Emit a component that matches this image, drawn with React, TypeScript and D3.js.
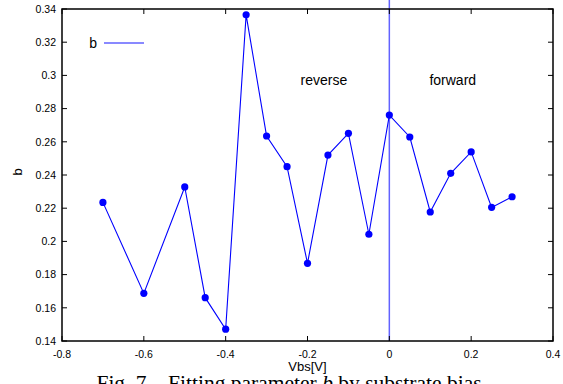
import { useRef, useEffect } from 'react';
import * as d3 from 'd3';

// Vbs [V] and fitted b values
const VBS = [-0.7, -0.6, -0.5, -0.45, -0.4, -0.35, -0.3, -0.25, -0.2, -0.15, -0.1, -0.05, 0, 0.05, 0.1, 0.15, 0.2, 0.25, 0.3];
const B_VALUES = [0.2235, 0.1687, 0.2328, 0.1661, 0.1471, 0.3365, 0.2635, 0.245, 0.1868, 0.252, 0.2651, 0.2043, 0.2761, 0.2629, 0.2177, 0.241, 0.2539, 0.2205, 0.2269];
const X_TICKS = [-0.8, -0.6, -0.4, -0.2, 0, 0.2, 0.4];
const Y_TICKS = [0.14, 0.16, 0.18, 0.2, 0.22, 0.24, 0.26, 0.28, 0.3, 0.32, 0.34];
const REGION_LABELS = [
  { text: 'reverse', x: -0.16 },
  { text: 'forward', x: 0.155 },
];

const SANS = '"Liberation Sans", Arial, Helvetica, sans-serif';

export default function App() {
  const svgRef = useRef<SVGSVGElement>(null);

  useEffect(() => {
    const svg = d3.select(svgRef.current);
    svg.selectAll('*').remove();

    const W = 563, H = 384;
    const margin = { top: 9, right: 10, bottom: 43, left: 62 };
    const width = W - margin.left - margin.right;
    const height = H - margin.top - margin.bottom;

    const x = d3.scaleLinear().domain([-0.8, 0.4]).range([0, width]);
    const y = d3.scaleLinear().domain([0.14, 0.34]).range([height, 0]);

    const g = svg.append('g').attr('transform', `translate(${margin.left},${margin.top})`);

    // zero-bias divider (runs a little above the frame)
    g.append('line')
      .attr('x1', x(0)).attr('x2', x(0))
      .attr('y1', -margin.top).attr('y2', height)
      .attr('stroke', '#6262ff').attr('stroke-width', 1.5);

    // ticks, mirrored and pointing inward
    const tickLen = 5;
    const tk = g.append('g').attr('stroke', '#000').attr('stroke-width', 1);
    X_TICKS.forEach(t => {
      tk.append('line').attr('x1', x(t)).attr('x2', x(t)).attr('y1', height).attr('y2', height - tickLen);
      tk.append('line').attr('x1', x(t)).attr('x2', x(t)).attr('y1', 0).attr('y2', tickLen);
    });
    Y_TICKS.forEach(t => {
      tk.append('line').attr('x1', 0).attr('x2', tickLen).attr('y1', y(t)).attr('y2', y(t));
      tk.append('line').attr('x1', width).attr('x2', width - tickLen).attr('y1', y(t)).attr('y2', y(t));
    });

    // frame
    g.append('rect')
      .attr('width', width).attr('height', height)
      .attr('fill', 'none').attr('stroke', '#000').attr('stroke-width', 1.5);

    // tick labels
    g.append('g').selectAll('text')
      .data(X_TICKS).enter().append('text')
      .attr('x', d => x(d)).attr('y', height + 17)
      .attr('text-anchor', 'middle')
      .style('font-family', SANS).style('font-size', '10.5px')
      .text(d => String(d));

    g.append('g').selectAll('text')
      .data(Y_TICKS).enter().append('text')
      .attr('x', -6).attr('y', d => y(d) + 3.8)
      .attr('text-anchor', 'end')
      .style('font-family', SANS).style('font-size', '10.5px')
      .text(d => String(d));

    // axis titles
    g.append('text')
      .attr('x', width / 2).attr('y', height + 30)
      .attr('text-anchor', 'middle')
      .style('font-family', SANS).style('font-size', '13px')
      .text('Vbs[V]');

    svg.append('text')
      .attr('transform', `translate(22,172) rotate(-90)`)
      .attr('text-anchor', 'middle')
      .style('font-family', SANS).style('font-size', '13px')
      .text('b');

    // region labels
    g.selectAll('text.region')
      .data(REGION_LABELS).enter().append('text')
      .attr('class', 'region')
      .attr('x', d => x(d.x)).attr('y', y(0.3) + 10)
      .attr('text-anchor', 'middle')
      .style('font-family', SANS).style('font-size', '14px')
      .text(d => d.text);

    // legend
    const lg = g.append('g');
    lg.append('text')
      .attr('x', 35).attr('y', 34 + 4.5)
      .attr('text-anchor', 'end')
      .style('font-family', SANS).style('font-size', '14px')
      .text('b');
    lg.append('line')
      .attr('x1', 42).attr('x2', 82).attr('y1', 34).attr('y2', 34)
      .attr('stroke', '#6262ff').attr('stroke-width', 1.5);

    // data series
    const pts = VBS.map((v, i) => [v, B_VALUES[i]] as [number, number]);
    const line = d3.line<[number, number]>().x(d => x(d[0])).y(d => y(d[1]));
    g.append('path')
      .datum(pts)
      .attr('d', line)
      .attr('fill', 'none').attr('stroke', '#0000ff').attr('stroke-width', 1.1);
    g.append('g').selectAll('circle')
      .data(pts).enter().append('circle')
      .attr('cx', d => x(d[0])).attr('cy', d => y(d[1]))
      .attr('r', 3.6).attr('fill', '#0000ff');

    // figure caption (partly cut off by the image edge)
    const cap = svg.append('text')
      .attr('x', 289).attr('y', 389.5)
      .attr('text-anchor', 'middle')
      .style('font-family', '"Liberation Serif", "Times New Roman", serif')
      .style('font-size', '21.5px')
      .attr('xml:space', 'preserve');
    cap.append('tspan').text('Fig. 7    Fitting parameter ');
    cap.append('tspan').style('font-style', 'italic').text('b');
    cap.append('tspan').text(' by substrate bias');
  }, []);

  return (
    <svg
      ref={svgRef}
      width={563}
      height={384}
      style={{ position: 'fixed', left: 0, top: 0, background: '#fff' }}
    />
  );
}
